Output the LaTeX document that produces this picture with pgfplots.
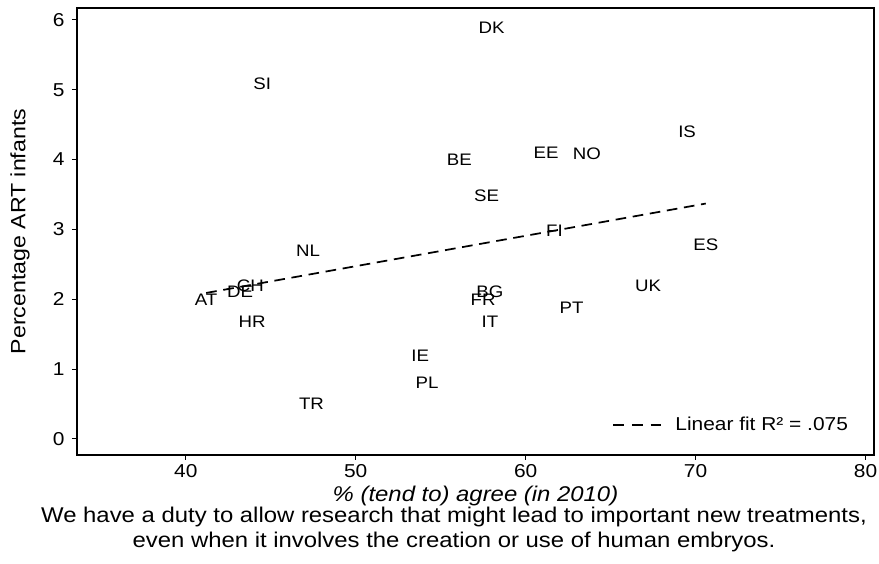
\documentclass[border=0pt]{standalone}
\usepackage{fontspec}
\setmainfont[FakeStretch=1.12]{Liberation Sans}
\usepackage{pgfplots}
\pgfplotsset{compat=1.18}

\pgfplotstableread{
x y lab
58.0 5.88 DK
44.5 5.08 SI
69.5 4.40 IS
56.1 4.00 BE
61.2 4.09 EE
63.6 4.09 NO
57.7 3.48 SE
61.7 2.98 FI
70.6 2.78 ES
47.2 2.69 NL
67.2 2.19 UK
43.8 2.19 CH
43.2 2.10 DE
41.2 1.99 AT
57.9 2.10 BG
57.5 1.99 FR
62.7 1.88 PT
43.9 1.68 HR
57.9 1.68 IT
53.8 1.19 IE
54.2 0.81 PL
47.4 0.50 TR
}\countries

\begin{document}
\begin{tikzpicture}
\begin{axis}[
    scale only axis,
    width=597.75pt, height=335.25pt,
    xmin=33.6, xmax=80.5,
    ymin=-0.23, ymax=6.17,
    xtick={40,50,60,70,80},
    ytick={0,1,2,3,4,5,6},
    xtick pos=bottom, ytick pos=left,
    tick align=outside,
    major tick length=3.75pt,
    axis line style={line width=0.9pt},
    tick style={line width=0.7pt, black},
    /pgf/number format/assume math mode=true,
    ticklabel style={font=\fontsize{14}{16}\selectfont},
    yticklabel style={xshift=-2pt},
    ylabel={Percentage ART infants},
    ylabel style={font=\fontsize{15.5}{18}\selectfont,
        at={(axis description cs:-0.0715,0.5)}, anchor=center},
    xlabel={\textit{\% (tend to) agree (in 2010)}},
    xlabel style={font=\fontsize{16}{18.75}\selectfont, yshift=1pt},
    legend style={draw=none, fill=none, at={(0.971,0.067)}, anchor=east,
        inner sep=0pt, column sep=8pt, font=\fontsize{14}{16}\selectfont},
    legend image code/.code={\draw[#1, dash pattern=on 8pt off 6pt] (0pt,0pt) -- (36pt,0pt);},
    legend cell align=left,
]
\coordinate (bl) at (rel axis cs:0,0);
\coordinate (tr) at (rel axis cs:1,1);
\addplot[draw=none, mark=none, nodes near coords, point meta=explicit symbolic,
    every node near coord/.style={anchor=center, inner sep=0pt,
        font=\fontsize{12.5}{14}\selectfont}, forget plot]
    table[x=x, y=y, meta=lab] {\countries};
\addplot[black, line width=1.3pt, dash pattern=on 8pt off 5pt]
    coordinates {(41.2,2.09) (70.6,3.37)};
\addlegendentry{Linear fit R² = .075}
\end{axis}
\node[anchor=north, align=center, inner sep=0pt, font=\fontsize{16}{18.75}\selectfont]
    at ([xshift=282.75pt, yshift=-39pt]bl)
    {We have a duty to allow research that might lead to important new treatments,\\even when it involves the creation or use of human embryos.};
\pgfresetboundingbox
\path ([xshift=-57.75pt, yshift=-81.75pt]bl) rectangle ([xshift=3.75pt, yshift=6pt]tr);
\end{tikzpicture}
\end{document}
